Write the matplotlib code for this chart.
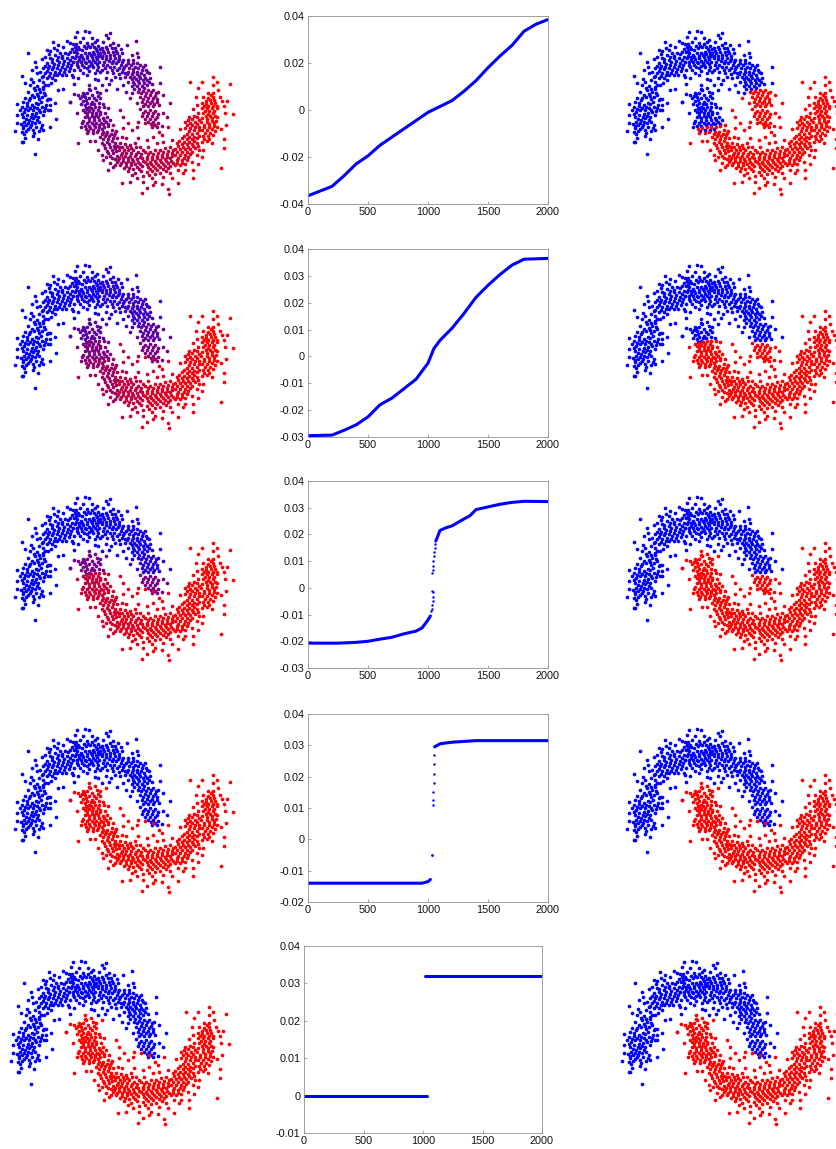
import numpy as np
import matplotlib
matplotlib.use("Agg")
import matplotlib.pyplot as plt

plt.rcParams['font.family'] = ['Liberation Sans', 'DejaVu Sans']

W, H = 836, 1149

# points, 3x pixel coordinates, one list per stretch of each moon
U1 = [(85,130),(65,198),(75,220),(105,156),(97,180),(110,190),(125,200),(118,210),(100,215),(90,225),(112,228),(128,232),(105,240),(120,245),(85,245),(95,255),(75,265),(88,270),(102,262),(115,258),(127,262),(70,275),(52,282),(65,292),(80,288),(95,285),(108,280),(122,275),(125,290),(110,295),(98,300),(85,300),(72,305),(60,300),(52,315),(68,320),(82,315),(95,312),(108,308),(120,305),(128,315),(115,322),(100,325),(88,330),(72,335),(62,342),(52,340),(78,345),(92,345),(105,340),(118,335),(125,345),(45,362),(70,355),(85,358),(98,360),(118,362),(72,372),(100,378),(128,360),(115,388),(70,395),(75,385),(106,431),(65,397),
      (109,171),(119,186),(93,208),(103,233),(117,237),(131,249),(111,251),(91,263),(81,279),(113,283),(118,267),(103,291),(89,293),(76,297),(116,301),(104,317),(93,321),(79,327),(66,311),(111,331),(97,337),(84,339),(69,347),(107,350),(90,352),(78,362),(65,365),(101,369),(143,267),(137,285),(133,303),(123,353),(150,300)]
U2 = [(160,97),(175,105),(140,120),(150,122),(170,120),(190,110),(200,92),(210,100),(135,140),(150,145),(165,135),(180,130),(195,128),(210,125),(125,148),(140,160),(155,155),(170,150),(185,145),(200,145),(215,140),(130,175),(145,175),(160,170),(175,165),(190,162),(205,160),(218,155),(135,190),(150,190),(165,185),(180,180),(195,178),(210,175),(140,205),(155,205),(170,195),(185,195),(130,215),(145,225),(215,195),(222,222),(190,238),(175,240),(150,268),(165,280),(140,270),(150,285),(135,295),(168,328),(150,352),(210,275),(135,255),(145,300),
      (163,113),(147,133),(157,147),(173,141),(187,137),(203,133),(217,117),(134,167),(148,167),(163,161),(178,157),(193,153),(209,149),(142,182),(157,178),(172,173),(186,171),(201,169),(214,165),(128,197),(146,198),(162,195),(177,188),(192,187),(206,184),(136,224),(152,218),(165,210),(198,196),(130,238)]
U3 = [(232,65),(225,80),(255,62),(268,65),(275,85),(240,95),(250,85),(262,100),(285,95),(292,90),(225,110),(235,110),(245,120),(258,115),(270,112),(282,110),(295,108),(222,125),(232,130),(242,135),(255,130),(268,128),(280,125),(292,122),(225,145),(238,150),(250,148),(262,145),(275,142),(288,140),(298,138),(230,165),(245,165),(258,160),(272,158),(285,155),(298,155),(222,180),(240,180),(262,175),(280,172),(295,170),(220,200),(235,205),(262,195),(285,190),(300,185),(285,208),(295,210),
      (218,103),(228,101),(237,118),(229,121),(251,107),(264,107),(277,101),(288,117),(299,116),(227,137),(236,141),(247,142),(261,137),(273,135),(283,132),(294,131),(220,155),(232,156),(243,157),(254,155),(266,152),(279,149),(291,147),(235,172),(251,172),(267,167),(277,165),(290,163),(248,188),(268,184),(291,181)]
U4 = [(318,75),(330,70),(325,85),(310,95),(340,100),(305,115),(318,110),(330,105),(345,115),(355,105),(362,118),(300,130),(312,130),(325,125),(338,125),(350,130),(365,130),(305,145),(318,148),(330,145),(345,145),(358,148),(370,150),(310,165),(322,165),(335,160),(348,160),(362,165),(372,170),(305,180),(320,185),(335,180),(350,180),(365,185),(318,205),(345,200),(360,205),(328,222),(305,225),(370,225),(350,238),
      (308,123),(322,118),(335,115),(347,122),(306,137),(319,139),(331,135),(343,136),(356,139),(313,155),(326,154),(339,152),(353,154),(367,157),(316,174),(329,172),(342,170),(356,173),(369,178),(340,190),(357,193),(375,190),(332,210)]
U5 = [(380,105),(408,92),(410,130),(395,135),(385,150),(400,150),(415,140),(378,165),(392,165),(405,170),(420,165),(435,165),(385,185),(398,185),(410,185),(425,180),(438,180),(375,200),(390,200),(403,200),(418,198),(432,195),(448,190),(385,215),(400,215),(413,212),(428,210),(442,210),(395,228),(410,228),(425,228),(440,225),(455,222),(480,170),(480,220),(378,245),(395,250),
      (384,158),(398,158),(412,160),(386,175),(399,177),(414,175),(428,172),(382,193),(396,193),(411,192),(424,188),(440,187),(395,208),(408,206),(421,204),(436,203),(450,203),(403,222),(418,220),(432,218),(447,216),(403,238),(418,237),(433,235)]
U6A = [(415,245),(430,242),(445,240),(460,240),(475,245),(420,260),(435,258),(450,255),(465,258),(425,275),(440,272),(455,272),(470,275),(490,255),(510,280),(430,288),(445,288),(460,288),(478,285),(390,265),(410,280),
       (424,250),(438,249),(453,247),(467,250),(428,266),(443,264),(458,264),(435,281),(449,280),(463,281),(472,266)]
U6B = [(420,298),(435,302),(450,300),(465,302),(490,310),(500,320),(425,318),(440,318),(455,318),(470,320),(445,335),(460,335),(475,338),(485,348),(455,350),(470,352),
       (428,308),(443,310),(458,309),(473,311),(434,326),(449,327),(464,327),(452,342),(466,344)]
L1A = [(235,255),(245,258),(255,262),(268,225),(270,240),(285,235),(262,248),(275,255),(290,245),(300,250),(250,272),(262,278),(275,275),(288,270),(210,275),(222,252),(300,265),(318,240),(255,285),(268,290),
       (240,265),(252,252),(259,270),(268,263),(281,263),(294,258),(244,281),(257,293),(272,283),(283,281),(296,278),(266,236),(309,283),(248,248)]
L1B = [(232,308),(248,300),(260,298),(272,295),(285,290),(298,292),(312,290),(325,295),(262,310),(275,310),(288,308),(300,305),(315,310),(255,322),(268,325),(282,322),(295,320),(308,325),(322,320),(245,340),(262,340),(275,338),(288,338),(302,338),(318,335),(330,330),
       (254,305),(267,303),(280,301),(293,299),(260,317),(275,318),(288,315),(301,313),(250,332),(268,333),(282,330),(296,330),(311,331),(243,352),(256,349),(268,347),(281,346),(296,345),(310,343),(323,342),(265,363),(279,360),(293,359),(306,358)]
L2 = [(258,358),(270,355),(285,352),(298,352),(312,350),(325,348),(340,345),(262,370),(278,368),(292,365),(308,365),(322,365),(335,360),(348,362),(270,392),(285,392),(300,380),(315,378),(328,378),(342,375),(350,385),(235,398),(305,400),(322,395),(335,392),(345,400),(295,420),(315,415),(330,410),(345,415),(305,435),(325,430),(340,428),(350,438),(308,450),(335,445),(345,465),(325,480),(340,472),
      (305,372),(319,372),(333,371),(346,369),(310,387),(325,386),(338,384),(313,404),(328,403),(341,407),(322,422),(337,420),(349,424),(318,441),(331,438),(344,446),(352,408),(352,455),(331,458)]
L3 = [(360,300),(370,322),(385,340),(415,335),(368,355),(395,360),(410,352),(365,382),(378,385),(415,385),(360,400),(375,402),(390,405),(405,400),(420,410),(358,420),(372,420),(385,420),(400,420),(415,425),(428,420),(362,435),(375,438),(390,438),(405,438),(420,440),(355,450),(370,452),(385,452),(400,452),(415,455),(428,452),(360,465),(378,468),(392,465),(410,470),(425,468),(385,482),(405,488),(422,482),(365,520),(390,515),(412,505),(430,515),
      (358,410),(366,412),(380,411),(394,413),(408,412),(365,428),(379,429),(393,430),(408,431),(422,432),(358,443),(369,444),(383,445),(397,446),(412,447),(426,445),(364,459),(378,460),(392,459),(406,462),(420,461),(371,475),(386,474),(400,476),(416,478),(395,494),(430,497)]
L4 = [(435,340),(460,345),(478,365),(505,352),(440,390),(460,380),(485,375),(445,410),(470,400),(490,395),(515,390),(435,425),(450,425),(465,420),(480,420),(495,415),(510,410),(440,440),(455,440),(470,438),(485,435),(500,432),(515,428),(435,455),(450,455),(465,452),(480,450),(495,448),(510,445),(445,470),(460,468),(475,465),(490,462),(505,460),(518,458),(440,485),(455,482),(472,480),(488,478),(503,475),(455,505),(465,515),(460,525),(440,535),(425,550),(485,522),(505,538),(508,553),(490,500),(510,490),
      (443,432),(458,431),(473,429),(488,427),(503,423),(518,419),(442,448),(457,447),(472,445),(487,442),(502,440),(516,437),(442,462),(453,462),(468,459),(483,456),(498,454),(512,452),(450,476),(466,474),(481,471),(496,468),(511,467),(447,494),(464,491),(479,489),(497,484)]
L5 = [(570,215),(595,235),(588,262),(578,298),(590,285),(568,320),(582,318),(595,310),(555,335),(570,338),(585,335),(598,330),(540,358),(555,355),(570,355),(585,352),(598,350),(560,372),(575,372),(590,370),(545,385),(560,388),(575,388),(590,385),(530,400),(545,402),(560,402),(575,402),(590,400),(525,418),(540,418),(555,418),(570,418),(585,415),(598,420),(525,435),(540,435),(555,435),(570,432),(530,450),(545,450),(560,450),(590,435),(525,465),(540,465),(555,462),(575,455),(535,480),(555,480),(595,462),(515,505),(535,520),(578,505),(550,490),(580,480),
      (563,329),(577,327),(591,322),(562,346),(577,345),(591,343),(568,363),(583,361),(596,360),(553,379),(568,380),(582,380),(597,377),(538,393),(553,395),(568,395),(583,394),(535,409),(550,410),(564,410),(578,409),(593,408),(531,427),(547,427),(562,426),(576,425),(535,443),(551,443),(565,441),(530,458),(547,458)]
L6 = [(638,200),(605,215),(652,215),(638,225),(690,222),(625,250),(640,250),(655,240),(610,262),(625,265),(640,262),(660,260),(665,272),(605,280),(618,282),(632,278),(645,280),(680,272),(605,295),(620,295),(635,295),(650,295),(672,288),(610,310),(625,312),(640,310),(700,313),(605,325),(620,328),(635,325),(650,320),(675,310),(612,345),(628,342),(642,340),(677,346),(605,360),(620,360),(635,358),(650,352),(662,358),(610,378),(625,378),(640,375),(605,395),(620,392),(635,400),(672,388),(610,420),(605,440),(673,415),(662,473),
      (632,256),(617,272),(630,270),(643,271),(611,288),(625,288),(639,287),(652,287),(614,302),(628,303),(643,302),(617,318),(631,319),(645,317),(604,336),(620,336),(635,333),(648,334),(613,352),(627,351),(641,349),(616,369),(630,368),(644,364),(613,386),(628,386)]
ZONES = [U1, U2, U3, U4, U5, U6A, U6B, L1A, L1B, L2, L3, L4, L5, L6]

# eigenvector value of each zone in each row, same order as ZONES
ROW1_VALUES = [-.036, -.030, -.022, -.015, -.008, .002, .004, -.010, -.004, .002, .010, .018, .028, .036]
ROW2_VALUES = [-.029, -.028, -.025, -.020, -.014, -.006, .002, -.006, .004, .012, .020, .027, .033, .036]
ROW3_VALUES = [-.021, -.021, -.020, -.019, -.017, -.014, .004, .004, .020, .023, .026, .029, .031, .032]
ROW4_VALUES = [-.014, -.014, -.014, -.014, -.014, -.014, -.013, .030, .031, .031, .0315, .0315, .0315, .0315]
ROW5_VALUES = [0, 0, 0, 0, 0, 0, 0, .032, .032, .032, .032, .032, .032, .032]
ROW_VALUES = [ROW1_VALUES, ROW2_VALUES, ROW3_VALUES, ROW4_VALUES, ROW5_VALUES]

# sorted eigenvector curves
CURVE1_X = [0, 100, 200, 300, 400, 500, 600, 700, 800, 900, 1000, 1100, 1200, 1300, 1400, 1500, 1600, 1700, 1800, 1900, 2000]
CURVE1_Y = [-.0365, -.0345, -.0325, -.028, -.023, -.0195, -.015, -.0115, -.008, -.0045, -.0010, .0015, .004, .008, .0125, .018, .023, .0275, .0335, .0365, .0385]
CURVE2_X = [0, 200, 300, 400, 500, 600, 700, 800, 900, 1000, 1050, 1100, 1200, 1300, 1400, 1500, 1600, 1700, 1800, 2000]
CURVE2_Y = [-.0295, -.0293, -.0275, -.0255, -.0225, -.018, -.0155, -.012, -.0085, -.0025, .003, .006, .0105, .016, .022, .0265, .0305, .034, .0362, .0365]
CURVE3_X = [0, 250, 400, 500, 600, 700, 800, 900, 950, 1000, 1020, None, 1065, 1100, 1150, 1200, 1250, 1300, 1350, 1400, 1500, 1600, 1700, 1800, 2000]
CURVE3_Y = [-.0207, -.0207, -.0204, -.0200, -.0192, -.0185, -.0172, -.0162, -.015, -.012, -.0105, None, .0175, .0215, .0225, .0232, .0245, .0258, .027, .0293, .0303, .0313, .032, .0324, .0323]
CURVE4_X = [0, 950, 1000, 1020, None, 1055, 1100, 1200, 1400, 2000]
CURVE4_Y = [-.014, -.014, -.0135, -.0128, None, .0295, .0305, .031, .0315, .0315]
CURVE5_X = [0, 1030, None, 1020, 2000]
CURVE5_Y = [0, 0, None, .032, .032]
CURVES = [(CURVE1_X, CURVE1_Y), (CURVE2_X, CURVE2_Y), (CURVE3_X, CURVE3_Y), (CURVE4_X, CURVE4_Y), (CURVE5_X, CURVE5_Y)]

# single dots in the jumps
JUMP3_X = [1025, 1030, 1035, 1040, 1042, 1045, 1035, 1035, 1040, 1042, 1045, 1050, 1050, 1055, 1060]
JUMP3_Y = [-.0085, -.008, -.0065, -.005, -.0035, -.0015, -.001, .0055, .0065, .008, .01, .012, .0135, .015, .0165]
JUMP4_X = [1030, 1035, 1040, 1042, 1045, 1047, 1048, 1050, 1052]
JUMP4_Y = [-.005, -.005, .011, .0125, .015, .018, .021, .024, .027]
JUMPS = [([], []), ([], []), (JUMP3_X, JUMP3_Y), (JUMP4_X, JUMP4_Y), ([], [])]

YLIMS = [(-.04, .04), (-.03, .04), (-.03, .04), (-.02, .04), (-.01, .04)]
YTICKS = [[-.04, -.02, 0, .02, .04],
          [-.03, -.02, -.01, 0, .01, .02, .03, .04],
          [-.03, -.02, -.01, 0, .01, .02, .03, .04],
          [-.02, -.01, 0, .01, .02, .03, .04],
          [-.01, 0, .01, .02, .03, .04]]
XTICKS = [0, 500, 1000, 1500, 2000]

# pixel layout
ROW_DY = [0, 234, 466, 698, 930]
LEFT_DX = [0, 0, 0, 0, -4]
RIGHT_DX = [612, 612, 612, 612, 607]
CURVE_BOX = [(308, 16, 548, 204), (308, 249, 548, 437), (308, 481, 548, 668), (308, 714, 548, 902), (304, 946, 542, 1133)]


def add_px_axes(x0, y0, x1, y1):
    return fig.add_axes([x0 / W, 1 - y1 / H, (x1 - x0) / W, (y1 - y0) / H])


def moon(dx, dy, colours):
    ax = add_px_axes(dx, dy + 10, dx + 240, dy + 210)
    for pts, c in zip(ZONES, colours):
        arr = np.array(pts)
        ax.scatter(arr[:, 0], arr[:, 1], s=7, color=c, linewidths=0)
    ax.set_xlim(0, 720)
    ax.set_ylim(600, 0)
    ax.axis('off')


fig = plt.figure(figsize=(W / 100, H / 100), dpi=100)

for i in range(5):
    vals = np.array(ROW_VALUES[i], dtype=float)
    t = (vals - vals.min()) / (vals.max() - vals.min())
    grad = [(a, 0, 1 - a) for a in t]
    sign = ['#ff0000' if v > 0 else '#0000ff' for v in vals]
    moon(LEFT_DX[i], ROW_DY[i], grad)
    moon(RIGHT_DX[i], ROW_DY[i], sign)

    ax = add_px_axes(*CURVE_BOX[i])
    cx = [np.nan if v is None else v for v in CURVES[i][0]]
    cy = [np.nan if v is None else v for v in CURVES[i][1]]
    ax.plot(cx, cy, color='#0000ff', lw=2.2, solid_capstyle='round')
    ax.plot(JUMPS[i][0], JUMPS[i][1], '.', color='#0000ff', ms=3.5, mew=0)
    ax.set_xlim(0, 2000)
    ax.set_ylim(*YLIMS[i])
    ax.set_xticks(XTICKS)
    ax.set_yticks(YTICKS[i])
    ax.set_yticklabels(['0' if v == 0 else ('%.2f' % v) for v in YTICKS[i]])
    ax.tick_params(direction='in', length=2.2, width=0.5, color='#808080', labelsize=7.8, pad=2.5, labelcolor='#111111')
    for s in ax.spines.values():
        s.set_linewidth(0.6)
        s.set_color('#909090')

fig.savefig('out.png', dpi=100)
